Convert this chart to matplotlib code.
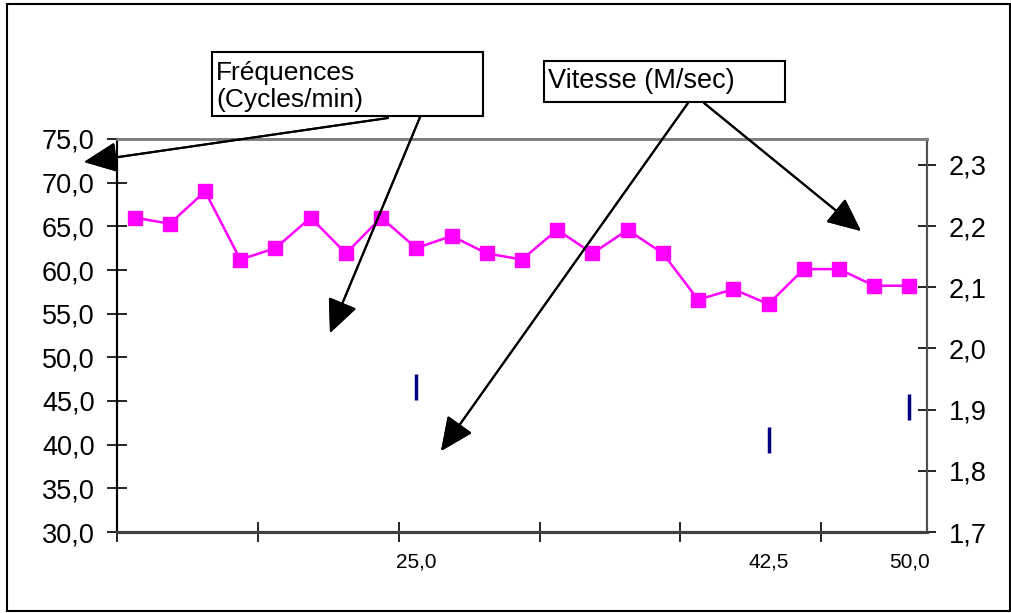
import numpy as np
import matplotlib
matplotlib.use("Agg")
import matplotlib.pyplot as plt
from matplotlib.patches import Rectangle
from matplotlib.ticker import FixedLocator, FuncFormatter

plt.rcParams['font.family'] = ['Liberation Sans', 'DejaVu Sans']

# Fréquences (cycles/min), one value per category
frequences = [66.0, 65.3, 69.0, 61.2, 62.5, 66.0, 61.9, 66.0, 62.5, 63.9, 61.9, 61.2,
              64.6, 61.9, 64.6, 61.9, 56.6, 57.8, 56.1, 60.1, 60.1, 58.2, 58.2]
# category labels (only three are filled)
cat_labels = [""] * 23
cat_labels[8] = "25,0"
cat_labels[18] = "42,5"
cat_labels[22] = "50,0"
# Vitesse (M/sec), only present at a few categories
vit_idx = [8, 18, 22]
vitesse = [1.937, 1.851, 1.905]

W, H = 1011, 613
fig = plt.figure(figsize=(W / 100, H / 100), dpi=100)


def px(x, y):
    # image pixel -> figure fraction
    return x / W, 1 - y / H


ax = fig.add_axes([117 / W, 1 - 532 / H, (927 - 117) / W, (532 - 139) / H])
ax2 = ax.twinx()

idx = np.arange(len(frequences))
ax.plot(idx, frequences, color='#FF00FF', lw=1.8, marker='s', ms=10.5,
        mec='#FF00FF', mfc='#FF00FF', zorder=3)
ax2.plot(vit_idx, vitesse, ls='none', marker='|', ms=19, mew=2.5, color='#000080')

ax.set_xlim(-0.5, len(frequences) - 0.5)
ax.set_ylim(30, 75)
ax2.set_ylim(1.7, 2.3425)

# y axes
fmt = FuncFormatter(lambda v, p: f"{v:.1f}".replace(".", ","))
ax.set_yticks(np.arange(30, 76, 5))
ax.yaxis.set_major_formatter(fmt)
ax2.set_yticks(np.arange(1.7, 2.31, 0.1))
ax2.yaxis.set_major_formatter(fmt)
ax.tick_params(axis='y', direction='inout', length=14, width=1.2, pad=9,
               labelsize=19.5, colors='black')
ax2.tick_params(axis='y', direction='inout', length=13, width=1.2, pad=9,
                labelsize=19.5, colors='black')

# x axis: ticks at group boundaries, labels under categories
ax.xaxis.set_major_locator(FixedLocator(np.arange(-0.5, len(frequences), 4)))
ax.xaxis.set_major_formatter(FuncFormatter(lambda v, p: ""))
lab_pos = [i for i, s in enumerate(cat_labels) if s]
ax.xaxis.set_minor_locator(FixedLocator(lab_pos))
ax.xaxis.set_minor_formatter(FuncFormatter(lambda v, p: cat_labels[int(round(v))]))
ax.tick_params(axis='x', which='major', direction='inout', length=15, width=1.2)
ax.tick_params(axis='x', which='minor', length=0, pad=15, labelsize=15)
ax2.tick_params(axis='x', which='both', length=0)

for a in (ax, ax2):
    a.spines['top'].set_color('#808080')
    a.spines['top'].set_linewidth(2)
    a.spines['left'].set_color('black')
    a.spines['left'].set_linewidth(1.5)
    a.spines['bottom'].set_color('#404040')
    a.spines['bottom'].set_linewidth(2.2)
    a.spines['right'].set_color('#505050')
    a.spines['right'].set_linewidth(1.5)

# outer chart border
x0, y0 = px(7, 611)
x1, y1 = px(1010, 4)
fig.add_artist(Rectangle((x0, y0), x1 - x0, y1 - y0, transform=fig.transFigure,
                         fill=False, ec='black', lw=1.5))

# text boxes
bx0, by0 = px(211.7, 116)
bx1, by1 = px(483.3, 52.3)
fig.add_artist(Rectangle((bx0, by0), bx1 - bx0, by1 - by0, transform=fig.transFigure,
                         fc='white', ec='black', lw=1.5, zorder=4))
tx, ty = px(216, 61)
fig.text(tx, ty, "Fréquences\n(Cycles/min)", fontsize=19, va='top', ha='left',
         linespacing=1.15, zorder=5)

bx0, by0 = px(544, 102.3)
bx1, by1 = px(785, 60.7)
fig.add_artist(Rectangle((bx0, by0), bx1 - bx0, by1 - by0, transform=fig.transFigure,
                         fc='white', ec='black', lw=1.5, zorder=4))
tx, ty = px(548, 81)
fig.text(tx, ty, "Vitesse (M/sec)", fontsize=19.5, va='center', ha='left', zorder=5)

# arrows
arrows = [((388, 118), (84, 162)),
          ((423, 110), (330, 333)),
          ((688, 103), (441, 451)),
          ((704, 103), (861, 231))]
for (sx, sy), (ex, ey) in arrows:
    fig.add_artist(plt.annotate("", xy=px(ex, ey), xycoords='figure fraction',
                                xytext=px(sx, sy), textcoords='figure fraction',
                                arrowprops=dict(arrowstyle='-|>,head_length=1.1,head_width=0.5',
                                                mutation_scale=19, lw=1.5, color='black',
                                                shrinkA=0, shrinkB=0)))

fig.savefig("out.png", dpi=100)
